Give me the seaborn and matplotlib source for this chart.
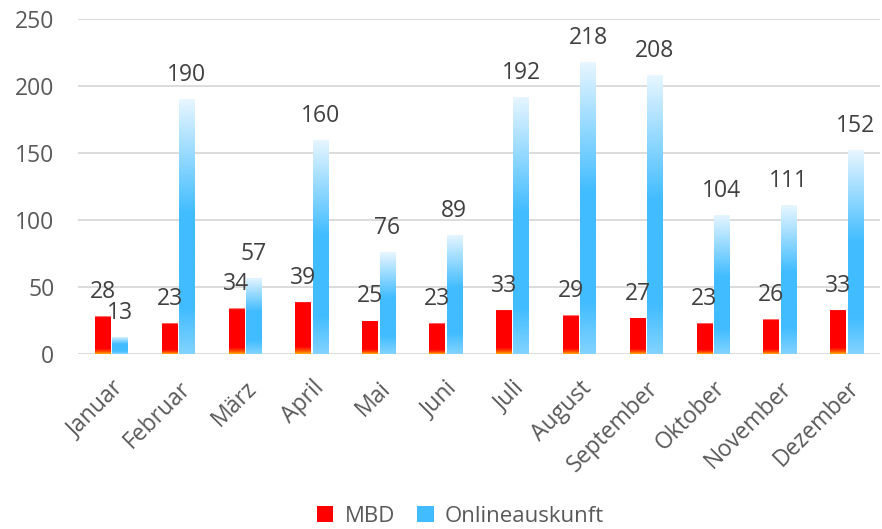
import numpy as np
import pandas as pd
import matplotlib
matplotlib.use("Agg")
import matplotlib.pyplot as plt
import seaborn as sns
from matplotlib.colors import LinearSegmentedColormap

months = ["Januar", "Februar", "März", "April", "Mai", "Juni", "Juli",
          "August", "September", "Oktober", "November", "Dezember"]
mbd = [28, 23, 34, 39, 25, 23, 33, 29, 27, 23, 26, 33]
online = [13, 190, 57, 160, 76, 89, 192, 218, 208, 104, 111, 152]
series = ["MBD", "Onlineauskunft"]
yticks = [0, 50, 100, 150, 200, 250]

df = pd.DataFrame({
    "Monat": months * 2,
    "Wert": mbd + online,
    "Serie": [series[0]] * len(months) + [series[1]] * len(months),
})

sns.set_theme(style="white")
plt.rcParams["font.family"] = ["Open Sans", "DejaVu Sans"]

FS = 16.5

fig = plt.figure(figsize=(8.82, 5.29), dpi=100)
ax = fig.add_axes([0.0884, 0.3308, 0.9096, 0.6332])

pal = {"MBD": "#FF0000", "Onlineauskunft": "#40BCFF"}
sns.barplot(data=df, x="Monat", y="Wert", hue="Serie", order=months,
            hue_order=series, palette=pal, width=0.52, gap=0.1,
            ax=ax, saturation=1, legend=True, zorder=3)

ax.set_ylim(0, 250)
ax.set_xlim(-0.5, len(months) - 0.5)
ax.set_yticks(yticks)
ax.yaxis.grid(True, color="#D9D9D9", lw=1.3, zorder=0)
ax.set_axisbelow(True)
for s in ax.spines.values():
    s.set_visible(False)
ax.set_xlabel("")
ax.set_ylabel("")
ax.tick_params(axis="y", length=0, pad=17, labelsize=FS, labelcolor="#595959")
ax.tick_params(axis="x", length=0, pad=16, labelsize=FS, labelcolor="#595959")
for lab in ax.get_xticklabels():
    lab.set_rotation(45)
    lab.set_ha("right")
    lab.set_va("top")
    lab.set_rotation_mode("anchor")

red_cmap = LinearSegmentedColormap.from_list("red", [
    (0.0, "#FFB8B8"), (0.03, "#FF0000"), (0.86, "#FF0000"),
    (0.94, "#FF5000"), (1.0, "#FFB000")])
blue_cmap = LinearSegmentedColormap.from_list("blue", [
    (0.0, "#E8F6FF"), (0.45, "#40BCFF"), (0.82, "#40BCFF"), (1.0, "#82D3FF")])

grad = np.linspace(0, 1, 256).reshape(-1, 1)
containers = ax.containers
for cont, cmap, vals in zip(containers, [red_cmap, blue_cmap], [mbd, online]):
    for patch, v in zip(cont.patches, vals):
        x0 = patch.get_x()
        w = patch.get_width()
        h = patch.get_height()
        patch.set_facecolor("none")
        patch.set_edgecolor("none")
        im = ax.imshow(grad, cmap=cmap, aspect="auto",
                       extent=[x0, x0 + w, 0, h], origin="upper", zorder=3)
        im.set_clip_path(patch)
        ax.annotate(f"{v}", (x0 + w / 2, h), xytext=(0, 13),
                    textcoords="offset points", ha="center", va="baseline",
                    fontsize=FS, color="#404040", zorder=5)

ax.set_xlim(-0.5, len(months) - 0.5)
ax.set_ylim(0, 250)

leg = ax.get_legend()
handles = leg.legend_handles
leg.remove()
for h_, c in zip(handles, ["#FF0000", "#40BCFF"]):
    h_.set_facecolor(c)
    h_.set_edgecolor("none")
fig.legend(handles, series, loc="center", bbox_to_anchor=(0.522, 0.024),
           ncol=2, frameon=False, fontsize=16, labelcolor="#595959",
           handlelength=0.75, handleheight=0.75, handletextpad=0.5,
           columnspacing=1.0)

fig.savefig("out.png", dpi=100)
